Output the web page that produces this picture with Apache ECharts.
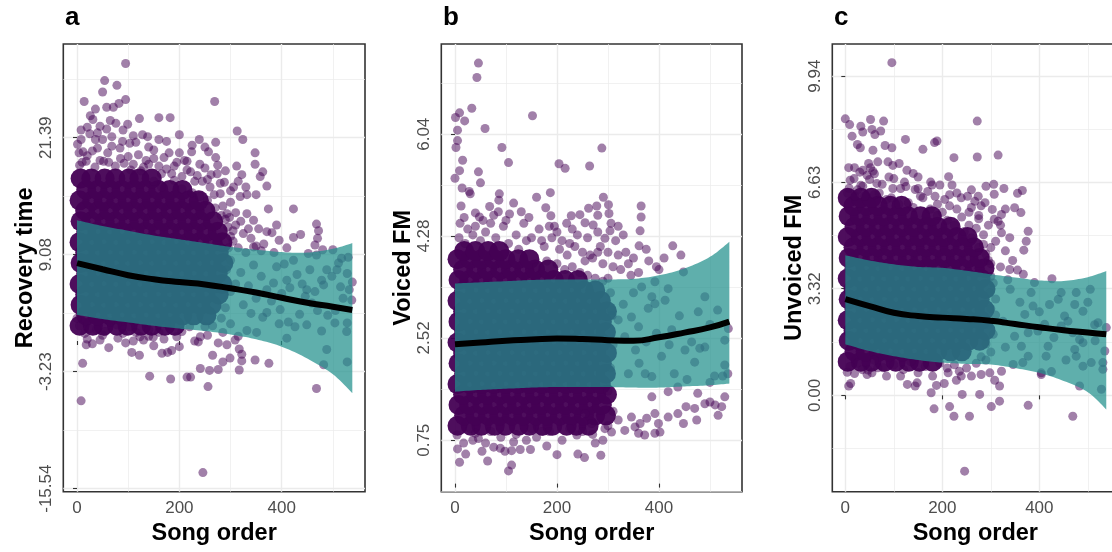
<!DOCTYPE html>
<html><head><meta charset="utf-8">
<script src="https://cdn.jsdelivr.net/npm/echarts@6.0.0/dist/echarts.min.js"></script>
<style>html,body{margin:0;padding:0;background:#fff}#chart{width:1112px;height:552px}</style>
</head><body><div id="chart"></div>
<script>
// ---------------- data ----------------
const songTicks = [0, 200, 400];
const songMinor = [100, 300, 500];
const aTicks = [-15.54, -3.23, 9.08, 21.39];
const aMinor = [-9.385, 2.925, 15.235, 27.545];
const bTicks = [0.75, 2.52, 4.28, 6.04];
const bMinor = [-0.13, 1.635, 3.40, 5.16, 6.92];
const cTicks = [0.00, 3.32, 6.63, 9.94];
const cMinor = [-1.66, 1.66, 4.975, 8.285];
const panelNames = ['Recovery time', 'Voiced FM', 'Unvoiced FM'];
const panelTags = ['a', 'b', 'c'];

// fitted smooth + ribbon (song order -> value)
const fitSong = [0, 50, 100, 150, 200, 250, 300, 350, 400, 450, 500, 538];
const aFit   = [8.2, 7.55, 6.92, 6.5, 6.2, 5.95, 5.55, 5.1, 4.55, 4.02, 3.6, 3.26];
const aUpper = [12.7, 12.1, 11.6, 11.1, 10.7, 10.3, 9.9, 9.6, 9.35, 9.3, 9.7, 10.3];
const aLower = [2.75, 2.3, 1.95, 1.6, 1.3, 1.05, 0.68, 0.18, -0.6, -1.85, -3.5, -5.5];
const bFit   = [2.41, 2.44, 2.47, 2.49, 2.51, 2.50, 2.48, 2.47, 2.53, 2.61, 2.70, 2.80];
const bUpper = [3.46, 3.48, 3.50, 3.52, 3.53, 3.53, 3.53, 3.54, 3.60, 3.72, 3.92, 4.18];
const bLower = [1.59, 1.62, 1.64, 1.66, 1.67, 1.67, 1.67, 1.66, 1.66, 1.68, 1.70, 1.73];
const cFit   = [3.0, 2.78, 2.57, 2.47, 2.42, 2.38, 2.32, 2.22, 2.12, 2.03, 1.96, 1.90];
const cUpper = [4.36, 4.2, 4.08, 4.0, 3.97, 3.88, 3.77, 3.67, 3.58, 3.56, 3.68, 3.87];
const cLower = [1.59, 1.38, 1.22, 1.1, 1.02, 0.98, 0.96, 0.85, 0.7, 0.45, 0.1, -0.44];

// densely overplotted songs: rows of [value, [song orders]]
const aCoreRows = [
[1.6,[5,31,52,78,99,125,146,172,191]],
[2.7,[18,40,65,87,112,134,159,181,206,228,253]],
[3.8,[7,28,54,75,101,122,148,169,194,216,241,263]],
[4.9,[16,42,63,89,110,136,157,183,204,230,251,277]],
[6.0,[5,30,52,77,99,124,146,171,192,218,239,265,284]],
[7.1,[18,40,65,87,112,134,159,181,206,228,253,275]],
[8.2,[7,28,54,75,101,122,148,169,194,216,241,263,286]],
[9.3,[16,42,63,89,110,136,157,183,204,230,251,277]],
[10.4,[5,30,52,77,99,124,146,171,192,218,239,265,284]],
[11.5,[18,40,65,87,112,134,159,181,206,228,253,275]],
[12.6,[7,28,54,75,101,122,148,169,194,216,241,266]],
[13.7,[16,42,63,89,110,136,157,183,204,230,251]],
[14.8,[5,30,52,77,99,124,146,171,192,218,238]],
[15.9,[18,40,65,87,112,134,159,181,206]],
[17.1,[7,28,54,75,101,122,146]]];
const bCoreRows = [
[1.0,[5,31,52,78,99,125,146,172,191,219,238,262]],
[1.18,[18,40,65,87,112,134,159,181,206,228,253,275,296]],
[1.36,[7,28,54,75,101,122,148,169,194,216,241,263,288]],
[1.54,[16,42,63,89,110,136,157,183,204,230,251,277,298]],
[1.72,[5,30,52,77,99,124,146,171,192,218,239,265,286]],
[1.9,[18,40,65,87,112,134,159,181,206,228,253,275,296]],
[2.08,[7,28,54,75,101,122,148,169,194,216,241,263,288]],
[2.26,[16,42,63,89,110,136,157,183,204,230,251,277,298]],
[2.44,[5,30,52,77,99,124,146,171,192,218,239,265,286]],
[2.62,[18,40,65,87,112,134,159,181,206,228,253,275,296]],
[2.8,[7,28,54,75,101,122,148,169,194,216,241,263,288]],
[2.98,[16,42,63,89,110,136,157,183,204,230,251,277,298]],
[3.16,[5,30,52,77,99,124,146,171,192,218,239,265,286]],
[3.34,[18,40,65,87,112,134,159,181,206,228,253,275]],
[3.52,[7,28,54,75,101,122,148,169,194,216,241]],
[3.7,[16,42,63,89,110,136,157,183]],
[3.88,[5,30,52,77,99,124,146]],
[4.02,[18,40,65,87]]];
const cCoreRows = [
[1.05,[5,32,54,81,104,131,153,180]],
[1.37,[19,42,69,91,118,141,168,190,217,240]],
[1.7,[7,30,56,79,106,129,155,178,205,228,254,277]],
[2.02,[17,44,67,93,116,143,166,192,215,242,265,289]],
[2.34,[5,32,54,81,104,131,153,180,203,230,252,279]],
[2.67,[19,42,69,91,118,141,168,190,217,240,267,287]],
[2.99,[7,30,56,79,106,129,155,178,205,228,254,277]],
[3.31,[17,44,67,93,116,143,166,192,215,242,265,289]],
[3.64,[5,32,54,81,104,131,153,180,203,230,252,279]],
[3.96,[19,42,69,91,118,141,168,190,217,240,267,287]],
[4.28,[7,30,56,79,106,129,155,178,205,228,254,277]],
[4.61,[17,44,67,93,116,143,166,192,215,242,265]],
[4.93,[5,32,54,81,104,131,153,180,203,230,252]],
[5.25,[19,42,69,91,118,141,168,190,217]],
[5.58,[7,30,56,79,106,129,155,178]],
[5.9,[17,44,67,93,116]],
[6.15,[5,32,54]]];

// individually visible songs [song order, value]
const aSongs = [[95,29.2],[54,27.4],[78,26.9],[50,26.2],[14,25.2],[95,25.4],[82,25.0],[71,24.6],[58,24.6],[36,24.4],[269,25.2],[26,23.7],[31,23.3],[76,22.9],[99,22.8],[122,23.4],[160,23.5],[182,23.5],[58,22.3],[128,21.7],[138,21.5],[8,21.2],[1,20.7],[4,19.8],[36,21.2],[50,21.2],[68,21.5],[89,21.0],[103,20.8],[84,20.3],[68,20.5],[239,21.2],[271,20.9],[313,22.1],[324,21.2],[348,19.8],[224,19.9],[257,19.9],[271,19.3],[348,18.6],[363,17.8],[371,16.3],[423,13.9],[468,12.3],[472,11.6],[437,11.2],[423,10.9],[374,13.9],[350,15.4],[312,18.4],[274,17.6],[288,16.7],[322,17.5],[306,16.2],[332,15.4],[358,17.3],[345,12.7],[371,11.5],[381,11.4],[332,13.4],[293,13.4],[319,15.2],
[20,19.5],[45,19.0],[62,18.8],[110,18.6],[130,18.3],[150,19.2],[175,18.1],[195,18.8],[215,18.0],[235,17.4],[250,18.2],[150,20.1],[200,19.8],[120,19.6],[30,20.0],[10,18.8],[85,19.2],[165,17.6],[230,16.8],[260,16.2],[280,15.5],[300,14.6],[290,12.8],[310,12.2],[325,11.3],[340,10.8],[355,11.8],[365,10.2],[300,11.0],[315,9.8],[330,9.3],[395,10.6],[410,9.8],[390,12.2],[470,10.8],[480,9.6],
[5,18.5],[18,18.9],[35,18.3],[52,18.9],[75,18.4],[92,18.7],[105,18.0],[125,17.9],[140,18.6],[160,18.4],[185,17.6],[205,17.3],[222,17.8],[245,16.8],[268,15.4],[285,14.2],[298,13.0],[305,11.6],[296,9.8],[292,7.5],[300,5.2],[290,3.5],[282,2.4],[12,19.9],[40,20.3],[60,19.8],[100,19.4],[135,19.0],[170,19.3],[190,18.4],[210,19.0],[240,18.6],[262,17.5],[280,16.6],[8,22.2],[25,21.8],[45,22.6],[90,22.2],[115,20.9],[175,21.0],[200,21.7],[225,20.6],[250,20.4],
[150,16.8],[165,16.2],[190,16.9],[205,16.0],[225,15.6],[240,15.2],[255,14.8],[270,14.0],[282,13.2],[295,12.0],[305,10.5],[310,13.5],[320,12.6],[335,11.8],[350,10.0],[360,9.5],[345,9.9],[300,15.8],[315,16.8],[330,16.2],[255,17.0],[275,18.5],[290,17.9],[215,18.9],[180,19.8],[160,21.2],[140,20.4],[110,21.6],[65,23.2],[20,22.5],[40,21.9],
[537,4.3],[528,7.1],[532,5.4],[517,8.7],[511,8.2],[508,7.5],[488,7.5],[478,6.4],[482,5.9],[498,6.8],[449,5.4],[465,5.2],[446,4.7],[459,4.0],[455,7.5],[468,9.05],[452,9.2],[465,10.1],[423,8.5],[410,6.4],[416,5.6],[390,7.8],[384,6.1],[371,5.4],[397,3.3],[413,2.0],[426,1.5],[449,1.7],[478,1.05],[504,1.9],[528,1.9],[527,1.0],[488,-0.9],[482,-2.5],[528,-2.2],[410,0.3],[363,2.5],[332,1.1],[371,3.0],
[430,7.0],[440,6.0],[400,5.0],[380,4.2],[360,6.8],[345,8.0],[350,4.5],[335,5.8],[320,7.2],[300,8.5],[310,6.0],[325,3.8],[340,2.9],[505,3.2],[520,4.5],[490,2.7],[470,3.2],[435,2.8],[395,1.8],[538,6.2],[515,5.7],[500,9.6],[530,8.8],[385,9.3],[405,8.1],
[8,-6.3],[11,-2.35],[18,-0.4],[62,-0.7],[107,-1.2],[122,-1.5],[142,-3.7],[166,-1.3],[177,-1.2],[185,-1.0],[183,-4.0],[215,-3.8],[222,-3.8],[241,-2.9],[259,-3.1],[276,-3.0],[256,-4.8],[246,-13.85],[299,-1.8],[317,-3.05],[322,-2.1],[317,-0.84],[322,-1.4],[348,-2.0],[375,-2.35],[468,-5.0],[351,0.9],[276,-0.2],[293,-0.4],[309,0.1],[130,0.1],[149,0.4],[195,0.45],[237,-0.1],[241,0.45],[45,0.1],[38,1.2],[78,1.7],[104,1.5],[123,0.45],[0,2.4],
[5,1.6],[15,0.8],[25,1.3],[55,1.0],[65,2.0],[90,0.8],[115,0.9],[140,1.2],[160,0.9],[175,1.8],[205,1.0],[220,1.5],[255,0.6],[265,1.6],[285,0.9],[300,1.8],[315,0.5],[95,-0.2],[30,-0.3],[200,-0.6],[265,-1.5],[285,-2.2],[150,-0.5],
[20,0.2],[50,0.6],[80,0.3],[110,0.0],[140,0.5],[170,0.2],[230,0.0],[250,1.5]];

const bSongs = [[46,7.27],[43,7.02],[33,6.49],[9,6.41],[1,6.33],[19,6.27],[152,6.36],[59,6.14],[5,6.11],[5,5.93],[2,5.81],[92,5.81],[105,5.55],[15,5.59],[9,5.41],[0,5.28],[46,5.39],[50,5.2],[288,5.8],[204,5.53],[216,5.45],[264,5.49],[14,5.11],[28,5.05],[30,5.01],[87,5.01],[86,4.9],[187,5.03],[291,4.95],[301,4.82],[278,4.8],[262,4.76],[365,4.8],[365,4.61],[363,4.37],[68,4.79],[40,4.68],[48,4.61],[76,4.64],[107,4.66],[178,4.77],[188,4.63],[228,4.63],[219,4.5],[255,4.51],[271,4.47],[280,4.64],[302,4.67],[306,4.5],[304,4.37],[294,4.24],[361,4.11],[375,4.05],[427,4.11],[443,3.95],
[10,4.5],[25,4.4],[60,4.35],[95,4.45],[120,4.3],[135,4.5],[150,4.25],[165,4.4],[200,4.35],[210,4.2],[240,4.3],[235,4.1],[250,4.0],[260,4.25],[285,4.1],[315,4.2],[320,3.95],[335,4.0],[340,3.8],[350,3.9],[325,3.7],[345,3.6],[380,3.85],[395,3.75],[400,3.7],[410,3.9],[360,3.65],
[8,4.25],[20,4.15],[35,4.3],[50,4.2],[80,4.25],[105,4.15],[125,4.05],[140,4.2],[175,4.1],[190,4.25],[220,3.95],[230,4.4],[270,3.9],[290,3.8],[300,3.55],[305,3.3],[308,2.9],[310,2.4],[305,2.0],[300,1.6],[310,1.25],[300,1.0],[18,4.6],[55,4.55],[85,4.7],[115,4.85],[145,4.6],[160,4.95],[195,4.45],[245,4.65],[280,4.35],[320,4.45],[330,4.3],
[160,3.75],[180,3.85],[200,3.8],[215,3.7],[230,3.75],[245,3.65],[260,3.6],[275,3.55],[290,3.5],[255,3.85],[265,3.95],[300,4.0],[310,3.75],[225,4.15],[205,4.05],[185,4.45],[170,4.2],[130,4.7],[100,4.55],[70,4.5],[40,4.45],[12,4.8],[280,4.0],
[490,3.23],[477,2.97],[529,2.48],[451,2.31],[464,2.45],[480,2.34],[490,2.36],[509,1.86],[525,1.86],[529,2.05],[536,2.68],[448,3.66],[425,2.66],[412,3.17],[392,3.11],[418,3.37],[392,3.49],[366,3.4],[386,1.85],[373,1.9],[361,2.08],[354,2.31],[333,2.54],[320,2.83],[307,3.0],[346,2.88],[360,2.71],[379,3.03],[386,3.23],
[405,2.2],[430,1.9],[440,2.9],[470,2.1],[500,2.75],[515,3.0],[455,1.8],[420,2.4],[395,2.6],[340,1.9],[375,2.45],[500,1.75],[535,1.9],[350,3.3],[330,3.1],
[9,0.37],[21,0.51],[64,0.39],[53,0.56],[105,0.22],[111,0.32],[4,0.84],[17,0.7],[40,0.87],[46,0.78],[76,0.63],[89,0.61],[98,0.56],[111,0.57],[128,0.59],[148,0.59],[241,0.51],[254,0.45],[286,0.49],[239,0.84],[275,0.7],[307,0.89],[333,0.92],[353,0.98],[360,0.87],[392,0.87],[402,0.89],[372,0.84],[418,1.15],[437,1.21],[453,1.33],[470,1.3],[490,1.38],[516,1.18],[523,1.33],[529,1.5],[510,1.36],[448,1.04],[474,1.1],[386,1.5],[418,1.59],[437,1.67],[476,1.56],[500,1.41],[255,1.21],[268,1.04],[294,0.95],[320,1.1],[346,1.15],[363,1.04],[376,1.13],[392,1.21],[399,1.04],
[30,0.95],[70,0.9],[120,0.85],[160,0.8],[185,0.9],[210,0.75],[225,0.95],[180,0.65],[200,0.5],[140,0.75],
[5,0.6],[35,0.75],[60,0.7],[90,0.8],[115,0.72],[150,0.95],[170,0.9],[250,0.9],[270,0.85],[290,0.75]];

const cSongs = [[96,10.36],[0,8.61],[9,8.43],[14,8.07],[32,8.38],[36,8.2],[52,8.59],[55,8.28],[61,8.12],[73,8.23],[79,8.54],[272,8.54],[124,7.97],[160,7.66],[184,7.87],[189,7.92],[82,7.78],[96,7.71],[25,7.81],[31,7.71],[57,7.63],[224,7.4],[272,7.42],[315,7.48],[48,7.22],[67,7.27],[88,7.27],[98,7.16],[111,7.22],[7,7.09],[19,7.09],[36,7.01],[52,7.09],[57,6.98],[127,7.01],[140,6.91],[122,6.64],[213,6.81],[220,6.55],[176,6.64],[179,6.55],[98,6.44],[114,6.44],[144,6.41],[150,6.44],[32,6.54],[36,6.51],[50,6.72],[76,6.57],[290,6.51],[306,6.57],[327,6.44],[307,6.26],[355,6.29],[365,6.38],[239,6.15],[252,6.2],[267,6.04],[274,6.2],[288,6.0],[303,5.79],[322,5.63],[349,5.84],[362,5.69],[377,5.11],[373,4.8],[368,4.52],[307,5.48],[315,5.42],[339,4.91],[322,5.06],
[5,6.3],[20,6.2],[60,6.25],[85,6.1],[130,6.0],[160,6.15],[190,5.95],[205,6.1],[230,5.8],[255,5.7],[275,5.5],[295,5.3],[285,5.0],[300,4.6],[330,4.5],[345,4.2],[355,3.9],[320,4.0],[335,3.6],
[8,6.45],[25,6.4],[40,6.2],[70,6.3],[95,6.15],[110,5.95],[140,5.85],[155,6.2],[175,5.8],[200,5.7],[215,5.9],[240,5.55],[255,5.3],[270,5.2],[285,4.7],[295,4.2],[300,3.7],[298,3.2],[300,2.7],[295,2.2],[290,1.6],[280,1.2],[18,6.75],[45,6.85],[65,6.6],[90,6.8],[125,6.5],[170,6.35],[195,6.55],[230,6.3],[260,5.85],[275,5.6],
[190,5.6],[210,5.45],[225,5.3],[245,5.1],[260,4.9],[275,4.6],[290,4.4],[300,4.1],[310,4.8],[320,5.3],[330,5.8],[280,5.9],[260,6.4],[215,6.25],[185,6.2],[150,6.8],[100,6.75],[60,6.9],[30,6.95],[10,6.7],[305,3.5],[310,2.5],[305,1.9],[300,1.35],
[538,2.11],[531,1.02],[531,0.81],[528,0.19],[483,0.29],[476,1.22],[490,0.91],[507,1.02],[535,1.38],[473,1.43],[483,1.74],[469,1.95],[490,1.64],[445,2.16],[452,2.47],[459,2.31],[490,2.62],[473,2.83],[476,3.2],[445,3.2],[439,2.99],[421,2.83],[411,2.21],[418,1.53],[397,2.0],[414,1.22],[377,1.22],[363,1.53],[349,1.84],[404,0.7],[377,1.95],[426,3.63],[521,2.26],[514,2.2],[390,3.51],[367,3.77],[339,3.92],[383,3.2],[370,2.52],[325,2.31],[387,2.78],
[500,2.9],[515,1.7],[455,1.1],[430,1.8],[400,2.6],[360,2.9],[340,3.3],[310,3.0],[330,1.5],[505,3.3],
[246,-2.36],[183,-0.42],[215,-0.35],[224,-0.65],[256,-0.65],[277,0.03],[241,0.03],[301,-0.35],[318,-0.18],[377,-0.31],[469,-0.65],[7,0.29],[11,0.37],[4,0.72],[19,0.68],[45,0.65],[47,0.79],[67,0.86],[78,0.86],[114,0.6],[128,0.34],[144,0.29],[148,0.39],[177,0.08],[188,0.31],[204,0.37],[212,0.7],[229,0.47],[239,0.6],[260,0.6],[280,0.65],[298,0.7],[308,0.47],[318,0.29],[322,0.75],[346,0.96],[366,1.02],[404,0.65],[425,0.74],
[25,1.0],[60,1.1],[100,0.95],[135,1.05],[165,0.9],[195,1.0],[225,0.95],[250,0.85],[270,1.0],[290,1.1],
[10,0.9],[35,0.8],[55,0.7],[85,0.6],[120,0.8],[150,0.7],[180,0.6],[210,0.85],[235,0.75]];

// ---------------- chart ----------------
const FONT = 'Liberation Sans, Arial, Helvetica, sans-serif';
const layout = [
  {left: 63.3, width: 301.7, tagX: 65},
  {left: 441.3, width: 300.7, tagX: 443},
  {left: 832.3, width: 286, tagX: 834}
];
const songRange = [-26.8, 562.8];
const yRanges = [[-15.86, 31.25], [-0.14, 7.60], [-3.0, 10.94]];
const yTicks = [aTicks, bTicks, cTicks];
const yMinors = [aMinor, bMinor, cMinor];
const coreRows = [aCoreRows, bCoreRows, cCoreRows];
const songs = [aSongs, bSongs, cSongs];
const fits = [aFit, bFit, cFit];
const uppers = [aUpper, bUpper, cUpper];
const lowers = [aLower, bLower, cLower];

// Catmull-Rom curve through pixel points (drawing helper only)
function smoothPixels(p) {
  const out = [];
  for (let k = 0; k < p.length - 1; k++) {
    const p0 = p[Math.max(k - 1, 0)], p1 = p[k], p2 = p[k + 1], p3 = p[Math.min(k + 2, p.length - 1)];
    for (let s = 0; s < 10; s++) {
      const t = s / 10, t2 = t * t, t3 = t2 * t;
      out.push([0, 1].map(d => 0.5 * (2 * p1[d] + (-p0[d] + p2[d]) * t +
        (2 * p0[d] - 5 * p1[d] + 4 * p2[d] - p3[d]) * t2 + (-p0[d] + 3 * p1[d] - 3 * p2[d] + p3[d]) * t3)));
    }
  }
  out.push(p[p.length - 1]);
  return out;
}

const grids = [], xAxes = [], yAxes = [], series = [], graphics = [];
for (let i = 0; i < 3; i++) {
  grids.push({left: layout[i].left, top: 44, width: layout[i].width, height: 447.7,
    show: true, borderColor: '#333333', borderWidth: 1.6, backgroundColor: 'transparent',
    outerBoundsMode: 'none', containLabel: false});
  const majorLine = {show: true, lineStyle: {color: '#EBEBEB', width: 1.4}};
  const minorLine = {show: true, lineStyle: {color: '#EBEBEB', width: 0.7}};
  xAxes.push({type: 'value', gridIndex: i, min: songRange[0], max: songRange[1], position: 'bottom',
    name: 'Song order', nameLocation: 'middle', nameGap: 30,
    nameTextStyle: {fontFamily: FONT, fontWeight: 'bold', fontSize: 23.5, color: '#000'},
    axisLine: {show: false},
    axisTick: {show: true, customValues: songTicks, length: 4, lineStyle: {color: '#333333', width: 1.1}},
    axisLabel: {customValues: songTicks, color: '#4D4D4D', fontSize: 17, fontFamily: FONT, margin: 8},
    splitLine: majorLine});
  xAxes.push({type: 'value', gridIndex: i, min: songRange[0], max: songRange[1], position: 'bottom',
    axisLine: {show: false}, axisTick: {show: false, customValues: songMinor},
    axisLabel: {show: false, customValues: songMinor}, splitLine: minorLine});
  yAxes.push({type: 'value', gridIndex: i, min: yRanges[i][0], max: yRanges[i][1], position: 'left',
    name: panelNames[i], nameLocation: 'middle', nameGap: 24, nameRotate: 90,
    nameTextStyle: {fontFamily: FONT, fontWeight: 'bold', fontSize: 23.5, color: '#000'},
    axisLine: {show: false},
    axisTick: {show: true, customValues: yTicks[i], length: 4, lineStyle: {color: '#333333', width: 1.1}},
    axisLabel: {customValues: yTicks[i], rotate: 90, color: '#4D4D4D', fontSize: 17, fontFamily: FONT, margin: 8,
      formatter: v => Number(v).toFixed(2)},
    splitLine: majorLine});
  yAxes.push({type: 'value', gridIndex: i, min: yRanges[i][0], max: yRanges[i][1], position: 'left',
    axisLine: {show: false}, axisTick: {show: false, customValues: yMinors[i]},
    axisLabel: {show: false, customValues: yMinors[i]}, splitLine: minorLine});

  const xi = 2 * i;
  const core = coreRows[i].flatMap(([v, xs]) => xs.map(x => [x, v]));
  series.push({type: 'scatter', xAxisIndex: xi, yAxisIndex: xi, data: core, symbolSize: 20,
    itemStyle: {color: '#440154', opacity: 0.95}, z: 2, silent: true});
  series.push({type: 'scatter', xAxisIndex: xi, yAxisIndex: xi, data: songs[i], symbolSize: 9,
    itemStyle: {color: '#440154', opacity: 0.5}, z: 2, silent: true});
  const up = uppers[i], lo = lowers[i];
  series.push({type: 'custom', xAxisIndex: xi, yAxisIndex: xi, data: [[0, 0]], z: 3, silent: true,
    renderItem: function (params, api) {
      const top = smoothPixels(fitSong.map((s, k) => api.coord([s, up[k]])));
      const bot = smoothPixels(fitSong.map((s, k) => api.coord([s, lo[k]])));
      return {type: 'polygon', shape: {points: top.concat(bot.reverse())},
        style: {fill: '#21908C', opacity: 0.72}};
    }});
  series.push({type: 'line', xAxisIndex: xi, yAxisIndex: xi,
    data: fitSong.map((s, k) => [s, fits[i][k]]), smooth: true, symbol: 'none',
    lineStyle: {color: '#000000', width: 6}, z: 4, silent: true});

  graphics.push({type: 'text', left: layout[i].tagX, top: 5,
    style: {text: panelTags[i], fontFamily: FONT, fontWeight: 'bold', fontSize: 26, fill: '#000'}});
}

const chart = echarts.init(document.getElementById('chart'), null, {renderer: 'canvas'});
chart.setOption({
  animation: false,
  backgroundColor: '#ffffff',
  textStyle: {fontFamily: FONT},
  grid: grids, xAxis: xAxes, yAxis: yAxes, series: series, graphic: graphics
});
</script></body></html>
